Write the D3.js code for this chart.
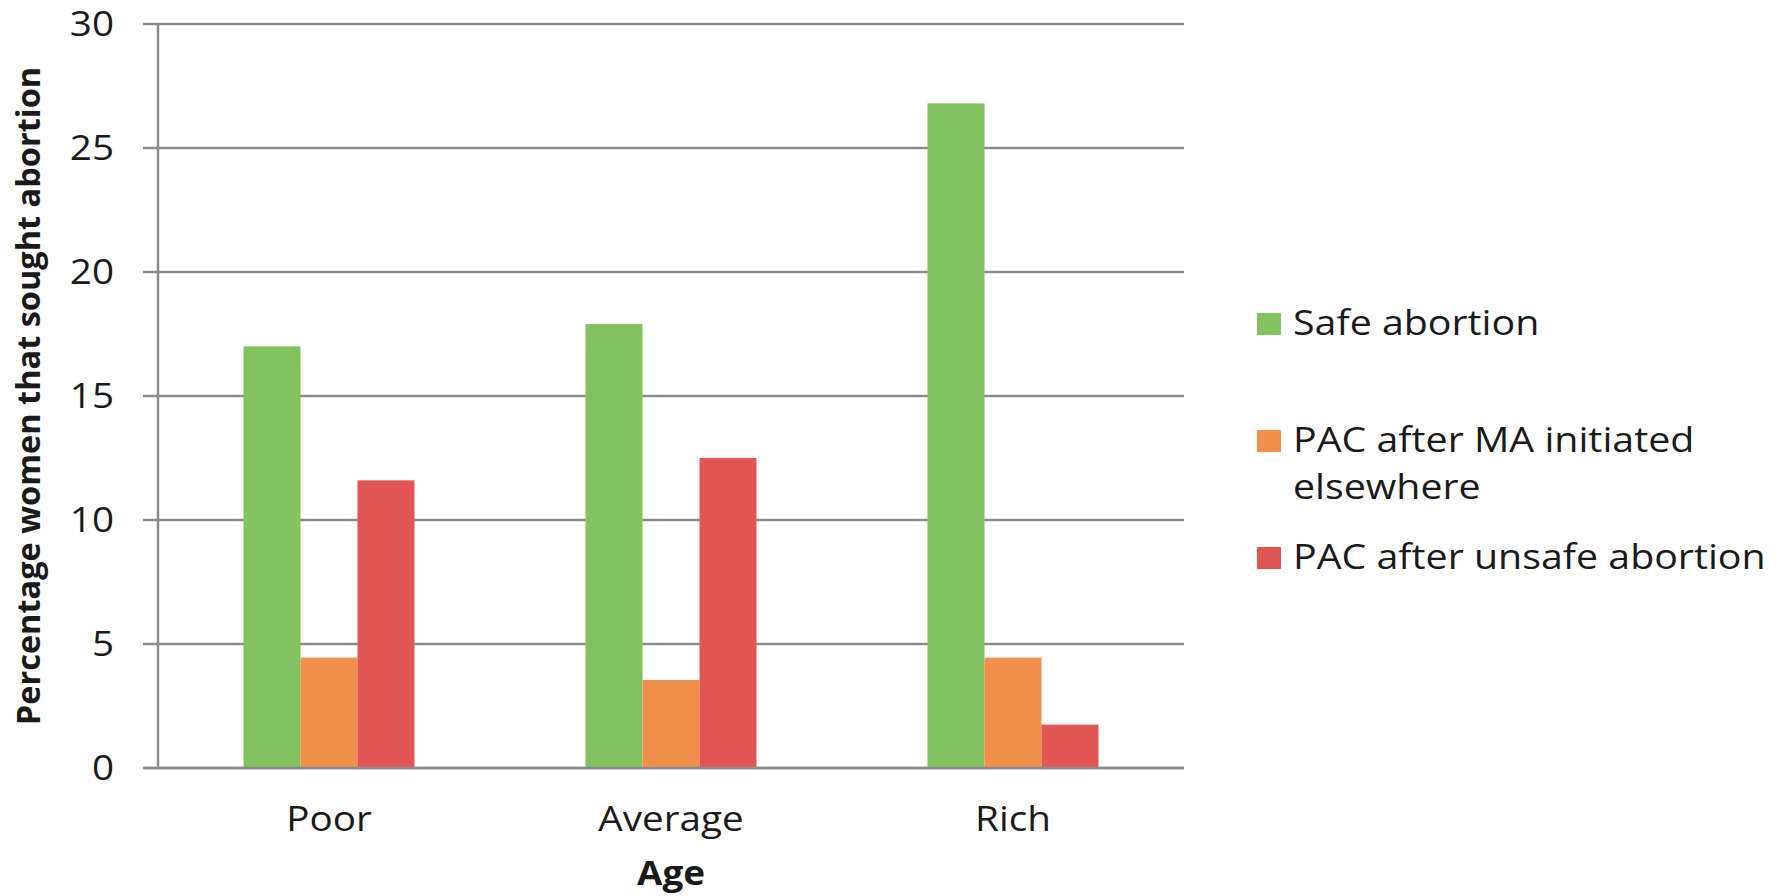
<!DOCTYPE html>
<html lang="en">
<head>
<meta charset="UTF-8">
<title>Percentage women that sought abortion</title>
<script src="https://d3js.org/d3.v7.min.js"></script>
<style>
    body { margin: 0; background: #fff; }
    text { font-family: "Open Sans", "Noto Sans", sans-serif; fill: #1a1a1a; }
    .grid line { stroke: #8c8c8c; stroke-width: 2.5; }
</style>
</head>
<body>
<svg id="chart" width="1786" height="896"></svg>
<script>
    const categories = ["Poor", "Average", "Rich"];
    const seriesNames = ["Safe abortion", "PAC after MA initiated elsewhere", "PAC after unsafe abortion"];
    const safeAbortion = [17.0, 17.9, 26.8];
    const pacAfterMA = [4.45, 3.55, 4.45];
    const pacAfterUnsafe = [11.6, 12.5, 1.75];
    const yTicks = [0, 5, 10, 15, 20, 25, 30];
    const colors = ["#82c360", "#f38f4d", "#e15654"];

    const series = [safeAbortion, pacAfterMA, pacAfterUnsafe];

    const plotLeft = 158, plotRight = 1184, plotTop = 24, plotBottom = 768;
    const fontSize = 34.5;
    const stretch = 1.12; // the source font is wider than Open Sans
    const svg = d3.select("#chart");

    const x = d3.scaleBand()
        .domain(categories)
        .range([plotLeft, plotRight])
        .paddingInner(0.5)
        .paddingOuter(0.25);

    const xSub = d3.scaleBand()
        .domain(d3.range(series.length))
        .range([0, x.bandwidth()]);

    const y = d3.scaleLinear().domain([0, 30]).range([plotBottom, plotTop]);

    const at = (px, py, sx = stretch) => `translate(${px},${py}) scale(${sx},1)`;

    // gridlines incl. the short tick stubs left of the axis
    svg.append("g").attr("class", "grid")
        .selectAll("line")
        .data(yTicks)
        .join("line")
        .attr("x1", plotLeft - 15)
        .attr("x2", plotRight)
        .attr("y1", d => y(d))
        .attr("y2", d => y(d));

    svg.append("line")
        .attr("x1", plotLeft).attr("x2", plotLeft)
        .attr("y1", plotTop).attr("y2", plotBottom)
        .attr("stroke", "#8c8c8c").attr("stroke-width", 2.5);

    // y tick labels
    svg.append("g")
        .selectAll("text")
        .data(yTicks)
        .join("text")
        .attr("transform", d => at(114, y(d) + 12))
        .attr("text-anchor", "end")
        .attr("font-size", fontSize)
        .text(d => d);

    // bars
    const groups = svg.append("g")
        .selectAll("g")
        .data(categories)
        .join("g")
        .attr("transform", d => `translate(${x(d)},0)`);

    groups.selectAll("rect")
        .data((d, i) => series.map((s, k) => ({ k, v: s[i] })))
        .join("rect")
        .attr("x", d => xSub(d.k))
        .attr("width", xSub.bandwidth())
        .attr("y", d => y(d.v))
        .attr("height", d => plotBottom - y(d.v))
        .attr("fill", d => colors[d.k]);

    // redraw baseline over bars
    svg.append("line")
        .attr("x1", plotLeft - 15).attr("x2", plotRight)
        .attr("y1", plotBottom).attr("y2", plotBottom)
        .attr("stroke", "#8c8c8c").attr("stroke-width", 2.5);

    // x labels
    svg.append("g")
        .selectAll("text")
        .data(categories)
        .join("text")
        .attr("transform", d => at(x(d) + x.bandwidth() / 2, 830.5))
        .attr("text-anchor", "middle")
        .attr("font-size", fontSize)
        .text(d => d);

    svg.append("text")
        .attr("transform", at(x("Average") + x.bandwidth() / 2, 885, 1.1))
        .attr("text-anchor", "middle")
        .attr("font-size", 33.5)
        .attr("font-weight", "bold")
        .text("Age");

    svg.append("text")
        .attr("transform", "translate(39.5,396) rotate(-90)")
        .attr("text-anchor", "middle")
        .attr("font-size", 32.5)
        .attr("font-weight", "bold")
        .text("Percentage women that sought abortion");

    // legend
    const legendY = [324, 441, 558];
    const legendLines = [["Safe abortion"], ["PAC after MA initiated", "elsewhere"], ["PAC after unsafe abortion"]];
    const legend = svg.append("g")
        .selectAll("g")
        .data(seriesNames)
        .join("g")
        .attr("transform", (d, i) => `translate(1257,${legendY[i]})`);

    legend.append("rect")
        .attr("x", 0).attr("y", -11)
        .attr("width", 24).attr("height", 22)
        .attr("fill", (d, i) => colors[i]);

    legend.each(function (d, i) {
        d3.select(this).selectAll("text")
            .data(legendLines[i])
            .join("text")
            .attr("transform", (t, j) => at(36, 11 + j * 47, 1.14))
            .attr("font-size", fontSize)
            .text(t => t);
    });
</script>
</body>
</html>
